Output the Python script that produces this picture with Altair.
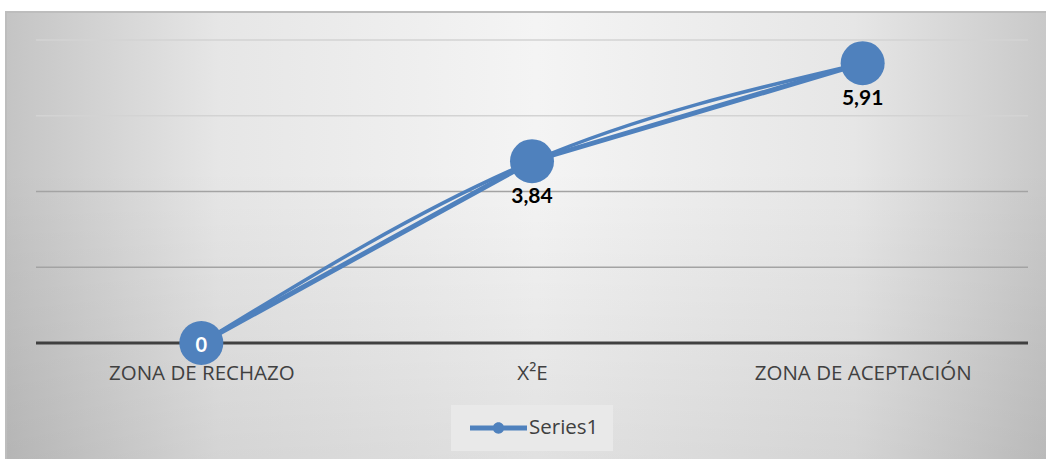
import altair as alt
import pandas as pd

categories = ["ZONA DE RECHAZO", "X²E", "ZONA DE ACEPTACIÓN"]
values = [0, 3.84, 5.91]
labels = ["0", "3,84", "5,91"]
series = ["Series1", "Series1", "Series1"]
grid_values = [1.6, 3.2, 4.8, 6.4]

BLUE = "#4f81bd"
FONT = "Open Sans"

df = pd.DataFrame({"cat": categories, "v": values, "lab": labels, "s": series})
gdf = pd.DataFrame({"g": grid_values})
zdf = pd.DataFrame({"g": [0]})

y_scale = alt.Scale(domain=[0, 6.4], nice=False, zero=True)
x_enc = alt.X("cat:N", sort=categories, title=None,
              scale=alt.Scale(type="point", padding=0.5),
              axis=alt.Axis(labelAngle=0, labelFontSize=20.5, labelFont=FONT, labelColor="#404040",
                            labelPadding=20, labelLimit=0, ticks=False, domain=False, grid=False,
                            zindex=1))
y_enc = alt.Y("v:Q", title=None, scale=y_scale, axis=None)

bg_df = pd.DataFrame({"a": [0]})
bg1 = alt.Chart(bg_df).mark_rect(
    color=alt.Gradient(gradient="linear", x1=0, x2=1, y1=0, y2=0,
                       stops=[alt.GradientStop(color="#c4c4c4", offset=0),
                              alt.GradientStop(color="#e6e6e6", offset=0.2),
                              alt.GradientStop(color="#f4f4f4", offset=0.5),
                              alt.GradientStop(color="#e6e6e6", offset=0.8),
                              alt.GradientStop(color="#c6c6c6", offset=1)]),
    stroke="#bdbdbd", strokeWidth=2,
).encode(x=alt.value(-30), x2=alt.value(1030), y=alt.value(-28), y2=alt.value(440))
bg2 = alt.Chart(bg_df).mark_rect(
    color=alt.Gradient(gradient="linear", x1=0, x2=0, y1=0, y2=1,
                       stops=[alt.GradientStop(color="rgba(0,0,0,0)", offset=0),
                              alt.GradientStop(color="rgba(0,0,0,0)", offset=0.35),
                              alt.GradientStop(color="rgba(0,0,0,0.08)", offset=1)]),
).encode(x=alt.value(-29), x2=alt.value(1030), y=alt.value(-27), y2=alt.value(419))
legend_box = alt.Chart(bg_df).mark_rect(color="#e9e9e9").encode(
    x=alt.value(415), x2=alt.value(577), y=alt.value(365), y2=alt.value(411))

grid = alt.Chart(gdf).mark_rule(strokeWidth=1.3).encode(
    y=alt.Y("g:Q", scale=y_scale, axis=None),
    color=alt.condition("datum.g >= 4", alt.value("#d3d3d3"), alt.value("#a3a3a3")))
baseline = alt.Chart(zdf).mark_rule(strokeWidth=3, color="#404040").encode(
    y=alt.Y("g:Q", scale=y_scale, axis=None))

base = alt.Chart(df)
color_enc = alt.Color("s:N", scale=alt.Scale(range=[BLUE]), title=None,
                      legend=alt.Legend(orient="none", legendX=434, legendY=359.5,
                                        padding=0,
                                        symbolType="M-1,-0.09L1,-0.09L1,0.09L-1,0.09Z"
                                                   "M-0.2,0A0.2,0.2,0,1,1,0.2,0A0.2,0.2,0,1,1,-0.2,0Z",
                                        symbolSize=3249, symbolStrokeWidth=0,
                                        labelFont=FONT, labelFontSize=20.5, labelColor="#404040",
                                        labelOffset=2))

curve = base.mark_line(interpolate="natural", strokeWidth=3.5, color=BLUE).encode(x=x_enc, y=y_enc)
straight = base.mark_line(strokeWidth=5, color=BLUE).encode(x=x_enc, y=y_enc)
pts = base.mark_point(filled=True, size=1936, opacity=1, strokeWidth=0).encode(x=x_enc, y=y_enc, color=color_enc)
txt = base.transform_filter("datum.v > 0").mark_text(
    font="Lato", fontWeight="bold", fontSize=21, color="#000000", dy=36
).encode(x=x_enc, y=y_enc, text="lab:N")
txt0 = base.transform_filter("datum.v == 0").mark_text(
    font="Lato", fontWeight="bold", fontSize=20, color="#ffffff", dy=3
).encode(x=x_enc, y=y_enc, text="lab:N")

chart = alt.layer(bg1, bg2, legend_box, grid, baseline, curve, straight, pts, txt, txt0).properties(
    width=992, height=303, autosize="none",
    padding={"left": 36, "top": 40, "right": 18, "bottom": 116},
).configure_view(stroke=None)

chart.save("out.html", embed_options={"renderer": "svg", "actions": False})
